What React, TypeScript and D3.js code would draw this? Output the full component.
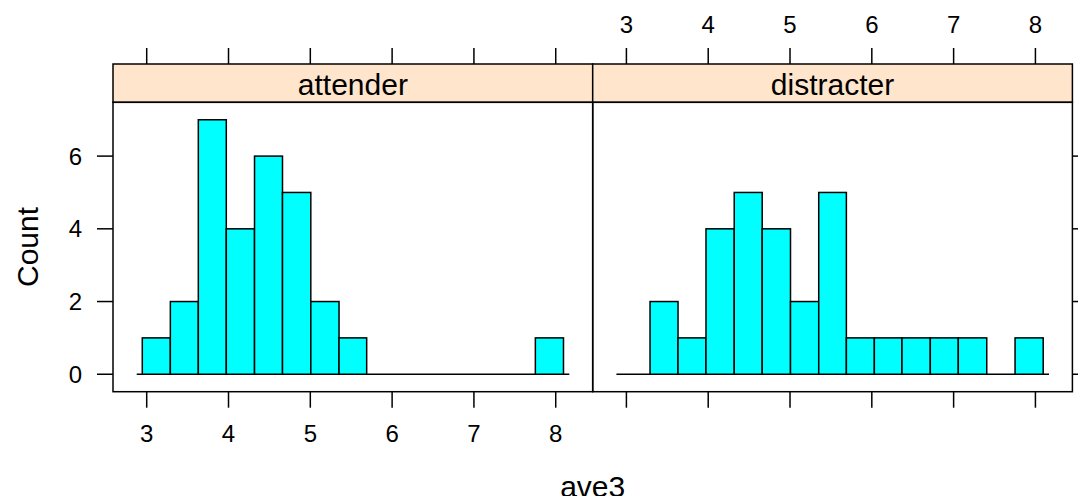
import React from "react";
import * as d3 from "d3";

// bin edges shared by both panels
const breaks = [2.946, 3.289, 3.631, 3.973, 4.318, 4.66, 5.006, 5.351, 5.689, 6.031, 6.369, 6.715, 7.057, 7.405, 7.751, 8.095];
const panels = ["attender", "distracter"];
const attenderCounts = [1, 2, 7, 4, 6, 5, 2, 1, 0, 0, 0, 0, 0, 0, 1];
const distracterCounts = [0, 2, 1, 4, 5, 4, 2, 5, 1, 1, 1, 1, 1, 0, 1];
const xTicks = [3, 4, 5, 6, 7, 8];
const yTicks = [0, 2, 4, 6];
const baselineRange = [2.878, 8.166];

const W = 1078;
const H = 496;
const panelW = 479.7;
const panelLeft = 113;
const stripTop = 64;
const panelTop = 102.3;
const panelBottom = 391.7;
const tick = 16;
const font = "'Liberation Sans', Arial, sans-serif";

export default function App() {
  const y = d3.scaleLinear().domain([-0.48, 7.48]).range([panelBottom, panelTop]);
  const counts = [attenderCounts, distracterCounts];

  return (
    <svg
      width={W}
      height={H}
      style={{ position: "absolute", left: 0, top: 0, background: "white" }}
      fontFamily={font}
    >
      {panels.map((name, p) => {
        const x0 = panelLeft + p * panelW;
        const x = d3.scaleLinear().domain([2.588, 8.452]).range([x0, x0 + panelW]);
        const data = counts[p];
        return (
          <g key={name}>
            {/* strip */}
            <rect x={x0} y={stripTop} width={panelW} height={panelTop - stripTop} fill="#ffe5cc" stroke="black" strokeWidth={1.5} />
            <text x={x0 + panelW / 2} y={95} textAnchor="middle" fontSize={30}>
              {name}
            </text>
            {/* zero line */}
            <line x1={x(baselineRange[0])} x2={x(baselineRange[1])} y1={y(0)} y2={y(0)} stroke="black" strokeWidth={1.5} />
            {/* bars */}
            {data.map((c, i) =>
              c > 0 ? (
                <rect
                  key={i}
                  x={x(breaks[i])}
                  y={y(c)}
                  width={x(breaks[i + 1]) - x(breaks[i])}
                  height={y(0) - y(c)}
                  fill="#00ffff"
                  stroke="black"
                  strokeWidth={1.5}
                />
              ) : null
            )}
            {/* panel border */}
            <rect x={x0} y={panelTop} width={panelW} height={panelBottom - panelTop} fill="none" stroke="black" strokeWidth={1.5} />
            {/* top ticks */}
            {xTicks.map((t) => (
              <g key={"t" + t}>
                <line x1={x(t)} x2={x(t)} y1={stripTop} y2={stripTop - tick} stroke="black" strokeWidth={1.5} />
                {p === 1 && (
                  <text x={x(t)} y={33} textAnchor="middle" fontSize={24}>
                    {t}
                  </text>
                )}
              </g>
            ))}
            {/* bottom ticks */}
            {xTicks.map((t) => (
              <g key={"b" + t}>
                <line x1={x(t)} x2={x(t)} y1={panelBottom} y2={panelBottom + tick} stroke="black" strokeWidth={1.5} />
                {p === 0 && (
                  <text x={x(t)} y={442.3} textAnchor="middle" fontSize={24}>
                    {t}
                  </text>
                )}
              </g>
            ))}
            {/* side ticks */}
            {yTicks.map((t) =>
              p === 0 ? (
                <g key={"l" + t}>
                  <line x1={x0} x2={x0 - tick} y1={y(t)} y2={y(t)} stroke="black" strokeWidth={1.5} />
                  <text x={82} y={y(t) + 8.5} textAnchor="end" fontSize={24}>
                    {t}
                  </text>
                </g>
              ) : (
                <line key={"r" + t} x1={x0 + panelW} x2={x0 + panelW + tick} y1={y(t)} y2={y(t)} stroke="black" strokeWidth={1.5} />
              )
            )}
          </g>
        );
      })}
      <text transform={`translate(37.5, ${(panelTop + panelBottom) / 2}) rotate(-90)`} textAnchor="middle" fontSize={30}>
        Count
      </text>
      <text x={panelLeft + panelW} y={497} textAnchor="middle" fontSize={30}>
        ave3
      </text>
    </svg>
  );
}
